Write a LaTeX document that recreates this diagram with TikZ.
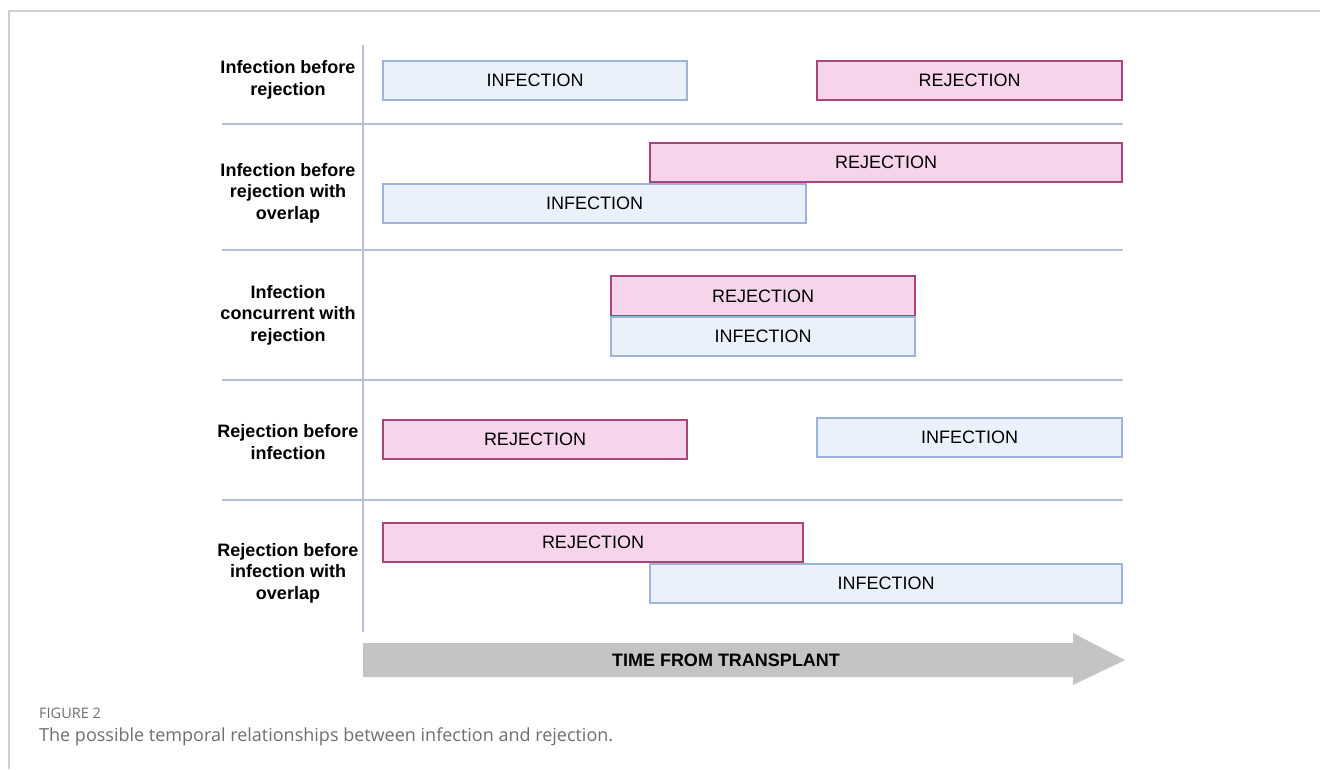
\documentclass[tikz,border=0pt]{standalone}
\usepackage{fontspec}
\setmainfont{Liberation Sans}
\newfontfamily\capfont{Open Sans}
\definecolor{infFill}{HTML}{EAF1FB}
\definecolor{infDraw}{HTML}{9DB3DA}
\definecolor{rejFill}{HTML}{F6D5EC}
\definecolor{rejDraw}{HTML}{A8457A}
\definecolor{axisCol}{HTML}{B3C1DA}
\definecolor{frameCol}{HTML}{D0D0D0}
\definecolor{arrowCol}{HTML}{C4C4C4}
\definecolor{capCol}{HTML}{6E6E6E}
\begin{document}
\begin{tikzpicture}[x=1pt,y=-1pt,
  bar/.style={draw, line width=1.5pt, inner sep=0pt, outer sep=0pt, minimum height=39pt,
    font=\fontsize{18}{21}\selectfont},
  inf/.style={bar, fill=infFill, draw=infDraw},
  rej/.style={bar, fill=rejFill, draw=rejDraw},
  rowlabel/.style={align=center, font=\bfseries\fontsize{18}{21.5}\selectfont, inner sep=0pt},
  sep/.style={draw=axisCol, line width=1.5pt}
]
\useasboundingbox (0,0) rectangle (1320,769);
% frame
\draw[frameCol, line width=1.5pt] (1320,11) -- (9,11) -- (9,769);
% axis and separators
\coordinate (axtop) at (363,45);
\coordinate (axbot) at (363,632);
\draw[sep] (axtop) -- (axbot);
\foreach \yy in {124,250,380,500} {
  \draw[sep] (222,\yy) -- (1123,\yy);
}
% row labels
\node[rowlabel] (l1) at (288,80) {Infection before\\rejection};
\node[rowlabel] (l2) at (288,193) {Infection before\\rejection with\\overlap};
\node[rowlabel] (l3) at (288,315) {Infection\\concurrent with\\rejection};
\node[rowlabel] (l4) at (288,442) {Rejection before\\infection};
\node[rowlabel] (l5) at (288,573) {Rejection before\\infection with\\overlap};
% row 1
\node[inf, minimum width=304pt] (i1) at (535,80.5) {INFECTION};
\node[rej, minimum width=305pt] (r1) at (969.5,80.5) {REJECTION};
% row 2
\node[rej, minimum width=472pt] (r2) at (886,162.5) {REJECTION};
\node[inf, minimum width=423pt] (i2) at (594.5,203.5) {INFECTION};
% row 3
\node[rej, minimum width=304pt, minimum height=40pt] (r3) at (763,296) {REJECTION};
\node[inf, minimum width=304pt] (i3) at (763,336.5) {INFECTION};
% row 4
\node[rej, minimum width=304pt] (r4) at (535,439.5) {REJECTION};
\node[inf, minimum width=305pt] (i4) at (969.5,437.5) {INFECTION};
% row 5
\node[rej, minimum width=420pt] (r5) at (593,542.5) {REJECTION};
\node[inf, minimum width=472pt] (i5) at (886,583.5) {INFECTION};
% time arrow
\fill[arrowCol] (363,643) -- (1073,643) -- (1073,633) -- (1125,660) -- (1073,685) -- (1073,677) -- (363,677) -- cycle;
\node[font=\bfseries\fontsize{18}{21}\selectfont, inner sep=0pt] (time) at (726,660) {TIME FROM TRANSPLANT};
% caption
\node[anchor=west, inner sep=0pt, text=capCol, font=\capfont\fontsize{14.5}{16}\selectfont] (fig) at (39,713) {FIGURE 2};
\node[anchor=west, inner sep=0pt, text=capCol, font=\capfont\fontsize{18}{20}\selectfont] (cap) at (39,737) {The possible temporal relationships between infection and rejection.};
\end{tikzpicture}
\end{document}
